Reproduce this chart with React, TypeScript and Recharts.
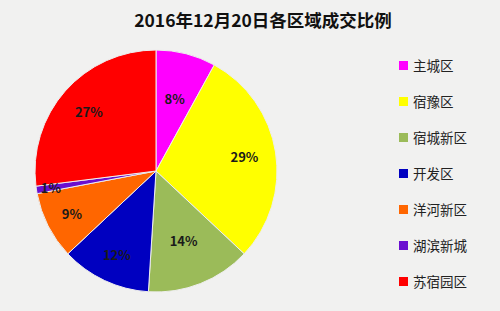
import { PieChart, Pie, Cell, Legend } from 'recharts'

const districts = ['主城区', '宿豫区', '宿城新区', '开发区', '洋河新区', '湖滨新城', '苏宿园区']
const shares = [8, 29, 14, 12, 9, 1, 27]
const colors = ['#ff00ff', '#ffff00', '#9bbb59', '#0000c0', '#ff6600', '#6a0fd0', '#ff0000']

const chartData = districts.map((name, i) => ({ name, value: shares[i] }))

// Excel 的"最佳位置"标签，每块离圆心距离不一样
const labelRadius = [0.62, 0.74, 0.62, 0.76, 0.78, 0.88, 0.74]

const RADIAN = Math.PI / 180
const FONT = '"Noto Sans CJK SC", "Noto Sans", sans-serif'

const renderLabel = (props: any) => {
  const { cx, cy, midAngle, outerRadius, percent, index } = props
  const r = outerRadius * labelRadius[index]
  const x = cx + r * Math.cos(-midAngle * RADIAN)
  const y = cy + r * Math.sin(-midAngle * RADIAN)
  return (
    <text
      x={x}
      y={y}
      fill="#1a1a1a"
      textAnchor="middle"
      dominantBaseline="central"
      fontSize={13}
      fontWeight="bold"
      fontFamily={FONT}
    >
      {`${Math.round(percent * 100)}%`}
    </text>
  )
}

const LegendList = () => (
  <div style={{ fontFamily: FONT }}>
    {chartData.map((d, i) => (
      <div
        key={d.name}
        style={{ display: 'flex', alignItems: 'center', height: 36, fontSize: 13.5, color: '#222' }}
      >
        <span style={{ width: 9, height: 9, background: colors[i], marginRight: 5 }} />
        {d.name}
      </div>
    ))}
  </div>
)

export default function App() {
  return (
    <div style={{ position: 'fixed', left: 0, top: 0, width: 500, height: 311, background: '#f1f1f0' }}>
      <div
        style={{
          position: 'absolute',
          top: 8,
          left: 0,
          width: 526,
          textAlign: 'center',
          fontFamily: FONT,
          fontWeight: 'bold',
          fontSize: 17.5,
          color: '#111',
          lineHeight: '24px',
        }}
      >
        2016年12月20日各区域成交比例
      </div>
      <PieChart width={500} height={311} margin={{ top: 0, right: 0, bottom: 0, left: 0 }}>
        <Pie
          data={chartData}
          dataKey="value"
          nameKey="name"
          cx={156}
          cy={171}
          outerRadius={121}
          startAngle={90}
          endAngle={-270}
          stroke="#eeeeee"
          strokeWidth={1}
          label={renderLabel}
          labelLine={false}
          isAnimationActive={false}
        >
          {chartData.map((d, i) => (
            <Cell key={d.name} fill={colors[i]} />
          ))}
        </Pie>
        <Legend
          content={<LegendList />}
          wrapperStyle={{ position: 'absolute', left: 399, top: 47, width: 100 }}
        />
      </PieChart>
    </div>
  )
}
